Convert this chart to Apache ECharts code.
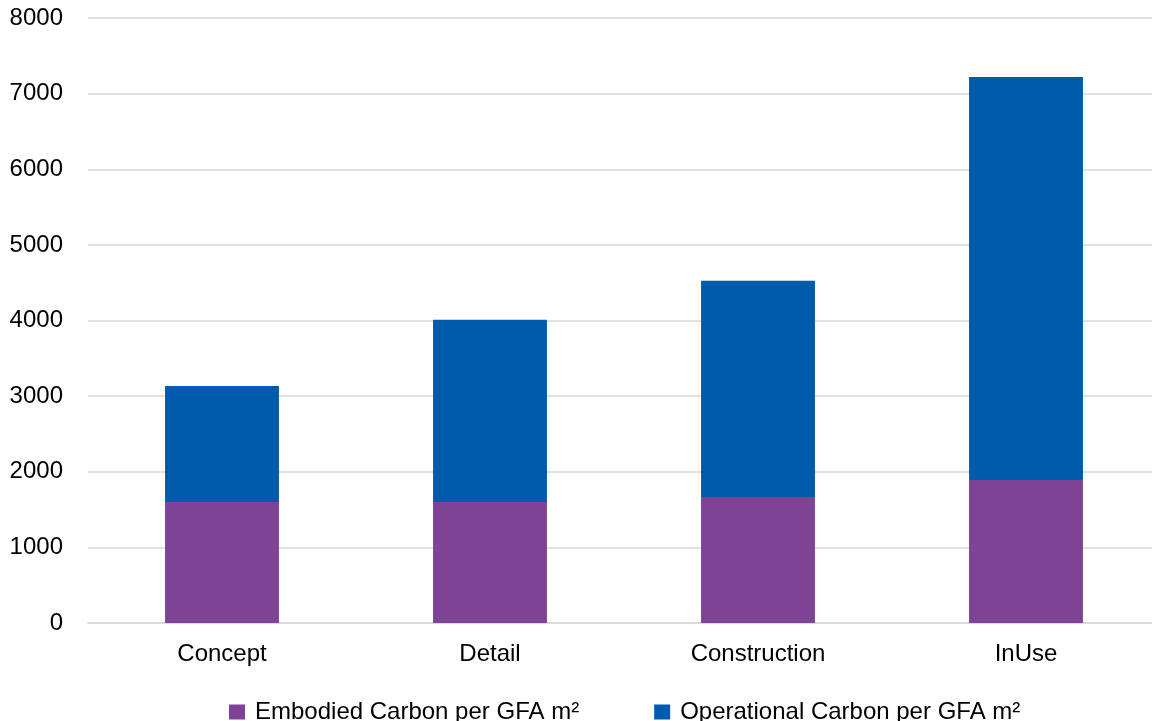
<!DOCTYPE html>
<html><head><meta charset="utf-8">
<script src="https://cdn.jsdelivr.net/npm/echarts@6/dist/echarts.min.js"></script>
<style>html,body{margin:0;padding:0;background:#fff}#c{width:1152px;height:721px}</style>
</head><body><div id="c"></div>
<script>
const categories = ['Concept', 'Detail', 'Construction', 'InUse'];
const embodied = [1600, 1600, 1665, 1890];
const operational = [1535, 2410, 2860, 5330];
const seriesNames = ['Embodied Carbon per GFA m²', 'Operational Carbon per GFA m²'];
const colors = ['#7F4396', '#005BAC'];

const chart = echarts.init(document.getElementById('c'));
const font = 'Liberation Sans, Arial, sans-serif';
chart.setOption({
  animation: false,
  textStyle: { fontFamily: font },
  grid: { left: 88, right: -8, top: 18, bottom: 98, containLabel: false, outerBoundsMode: 'none' },
  legend: {
    top: 695, left: 224,
    itemWidth: 16, itemHeight: 15, itemGap: 75,
    icon: 'rect',
    textStyle: { fontSize: 24, color: '#000', fontFamily: font, padding: [0, 0, 0, 5] },
    data: seriesNames
  },
  xAxis: {
    type: 'category', data: categories,
    axisLine: { lineStyle: { color: '#d9d9d9', width: 1.5 } },
    axisTick: { show: false },
    axisLabel: { fontSize: 24, color: '#000', margin: 19, fontFamily: font }
  },
  yAxis: {
    type: 'value', min: 0, max: 8000, interval: 1000,
    axisLine: { show: false }, axisTick: { show: false },
    axisLabel: { fontSize: 24, color: '#000', margin: 25, fontFamily: font, formatter: v => String(v) },
    splitLine: { lineStyle: { color: '#d9d9d9', width: 1.5 } }
  },
  series: [
    { name: seriesNames[0], type: 'bar', stack: 'a', data: embodied, barWidth: '42.5%', itemStyle: { color: colors[0] } },
    { name: seriesNames[1], type: 'bar', stack: 'a', data: operational, barWidth: '42.5%', itemStyle: { color: colors[1] } }
  ]
});
</script></body></html>
